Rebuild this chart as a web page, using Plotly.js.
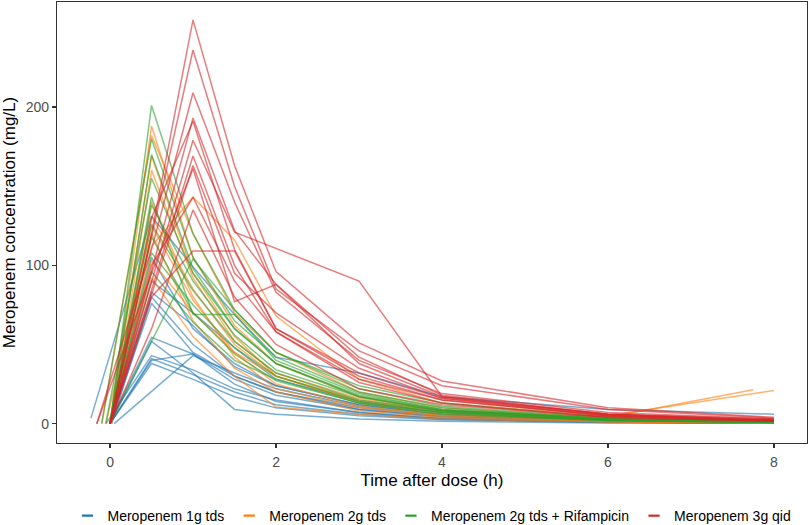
<!DOCTYPE html>
<html>
<head>
<meta charset="utf-8">
<script src="https://cdn.plot.ly/plotly-3.0.1.min.js"></script>
<style>
  html, body { margin: 0; padding: 0; background: #fff; }
  #chart { width: 809px; height: 525px; }
</style>
</head>
<body>
<div id="chart"></div>
<script>
// Individual concentration-time profiles, one inner array per patient.
// Times in hours after dose, concentrations in mg/L.

var groupNames = ['Meropenem 1g tds', 'Meropenem 2g tds', 'Meropenem 2g tds + Rifampicin', 'Meropenem 3g qid'];
var groupColors = ['#1F77B4', '#FF7F0E', '#2CA02C', '#D62728'];

var times1g = [
    [-0.23, 0.5, 1, 1.5, 2, 3, 4, 6, 8],
    [0, 0.5, 1, 1.5, 2, 3, 4, 6, 8],
    [0.02, 0.5, 1, 1.5, 2, 3, 4, 6, 8],
    [0, 0.5, 1, 1.5, 2, 3, 4, 6, 8],
    [-0.05, 0.5, 1, 1.5, 2, 3, 4, 6, 8],
    [0, 0.5, 1, 1.5, 2, 3, 4, 6, 8],
    [0, 0.5, 1, 1.5, 2, 3, 4, 6, 8],
    [0.05, 1, 1.5, 2, 3, 4, 6, 8],
    [0, 0.5, 1, 1.5, 2, 3, 4, 6, 8],
    [0, 0.5, 1, 1.5, 2, 3, 4, 6, 8],
    [0, 0.5, 1, 1.5, 2, 3, 4, 6, 8],
    [0, 0.5, 1, 1.5, 2, 3, 4, 6, 8],
    [0, 0.5, 1, 1.5, 2, 3, 4, 6, 8]
];
var conc1g = [
    [3.5, 131, 99, 69, 42, 32, 17, 9, 6],
    [0, 83, 62, 36, 24, 12, 6, 2, 1],
    [0, 80, 50, 30, 20, 10, 5, 2, 0.8],
    [1, 54.5, 44, 28, 18, 9, 4.5, 1.5, 0.5],
    [0, 43, 34, 22, 15, 7, 3.5, 1.2, 0.4],
    [0, 41, 31, 20, 12, 6, 3, 1, 0.3],
    [0, 38, 28, 17, 10, 5, 2.5, 0.8, 0.3],
    [0, 43, 32, 22, 11, 5, 2, 0.7],
    [0, 52, 32, 9, 6, 3, 1.5, 0.5, 0.2],
    [0, 76, 45, 30, 20, 9, 4, 1.5, 0.5],
    [0, 105, 60, 38, 24, 12, 6, 2.5, 1],
    [0, 90, 70, 48, 28, 14, 7, 3, 1.2],
    [0, 40, 44, 25, 14, 7, 3, 1, 0.4]
];

var times2g = [
    [0, 0.5, 1, 1.5, 2, 3, 4, 6, 8],
    [-0.1, 0.5, 1, 1.5, 2, 3, 4, 6, 8],
    [0, 0.5, 1, 1.5, 2, 3, 4, 6, 8],
    [0, 0.5, 1, 1.5, 2, 3, 4, 6, 8],
    [-0.05, 0.5, 1, 1.5, 2, 3, 4, 6, 8],
    [0, 0.5, 1, 1.5, 2, 3, 4, 6, 8],
    [0, 0.5, 1, 1.5, 2, 3, 4, 6, 7.75],
    [0, 0.5, 1, 1.5, 2, 3, 4, 6, 8],
    [0, 0.5, 1, 1.5, 2, 3, 4, 6, 8],
    [0, 0.5, 1, 1.5, 2, 3, 4, 6, 8],
    [0.02, 0.5, 1, 1.5, 2, 3, 4, 6, 8]
];
var conc2g = [
    [0, 188, 105, 62, 38, 17, 8, 3, 1],
    [0, 182, 120, 70, 45, 20, 10, 3.5, 1.2],
    [0, 169, 95, 55, 30, 14, 7, 2.5, 0.8],
    [0, 131, 85, 50, 30, 13, 6, 2, 1],
    [0, 125, 78, 45, 25, 11, 5, 1.5, 0.5],
    [0, 120, 65, 35, 20, 8, 4, 1.2, 0.4],
    [0, 103, 70, 45, 30, 15, 8, 4, 21.5],
    [0, 112, 143, 116, 68, 28, 13, 5, 2],
    [0, 92, 55, 30, 10.5, 6, 3, 1, 0.3],
    [0, 140, 80, 42, 22, 10, 5, 5, 21],
    [0, 160, 92, 52, 32, 16, 8, 3, 1]
];

var times2gRif = [
    [0, 0.5, 1, 1.5, 2, 3, 4, 6, 8],
    [-0.1, 0.5, 1, 1.5, 2, 3, 4, 6, 8],
    [0, 0.5, 1, 1.5, 2, 3, 4, 6, 8],
    [0, 0.5, 1, 1.5, 2, 3, 4, 6, 8],
    [0, 0.5, 1, 1.5, 2, 3, 4, 6, 8],
    [0, 0.5, 1, 1.5, 2, 3, 4, 6, 8],
    [0, 0.5, 1, 1.5, 2, 3, 4, 6, 8],
    [0, 1, 1.5, 2, 3, 4, 6, 8],
    [0, 0.5, 1, 1.5, 2, 3, 4, 6, 8],
    [0, 0.5, 1, 1.5, 2, 3, 4, 6, 8],
    [-0.05, 0.5, 1, 1.5, 2, 3, 4, 6, 8]
];
var conc2gRif = [
    [0, 201, 120, 72, 45, 22, 11, 3.5, 1.2],
    [0, 180, 105, 65, 42, 20, 10, 3, 1],
    [0, 170, 98, 60, 38, 18, 9, 2.5, 0.8],
    [0, 143, 69, 69, 40, 19, 9, 3, 1],
    [0, 138, 90, 56, 34, 17, 8.5, 3, 1.5],
    [0, 126, 84, 52, 32, 15, 8, 2.5, 1],
    [0, 108, 75, 48, 30, 14, 7, 2, 0.8],
    [0, 104, 72, 45, 24, 13, 4, 1.5],
    [1, 118, 70, 44, 27, 13, 6, 2, 0.6],
    [0, 96, 64, 40, 28, 13, 7, 2, 0.8],
    [0, 155, 95, 60, 38, 17, 8, 2.5, 1]
];

var times3g = [
    [0, 0.5, 1, 1.5, 2, 3, 4, 6, 8],
    [0, 1, 1.5, 2, 3, 4, 6, 8],
    [-0.16, 0.5, 1, 1.5, 2, 3, 4, 6, 8],
    [0, 1, 1.5, 2, 3, 4, 6, 8],
    [0, 0.5, 1, 1.5, 2, 3, 4, 6, 8],
    [0, 1, 1.5, 3, 4, 6, 8],
    [0, 0.5, 1, 1.5, 2, 3, 4, 6, 8],
    [0, 1, 1.5, 2, 3, 4, 6, 8],
    [-0.16, 0.5, 1, 1.5, 2, 3, 4, 6, 8],
    [0, 0.5, 1, 1.5, 2, 3, 4, 6, 8],
    [0, 0.5, 1, 1.5, 2, 3, 4, 6, 8],
    [0, 0.5, 1, 1.5, 2, 3, 4, 6, 8]
];
var conc3g = [
    [0, 120, 255, 163, 96, 51, 27, 10, 4],
    [0, 236, 150, 85, 46, 24, 9, 3.5],
    [0, 110, 209, 140, 83, 40, 19, 7, 3],
    [0, 193, 122, 88, 42, 18, 6, 2.5],
    [0, 130, 191, 110, 60, 32, 16, 5, 2],
    [0, 179, 121, 90, 17, 6, 2],
    [0, 85, 169, 100, 58, 28, 15, 5, 2],
    [0, 163, 95, 70, 35, 16, 6, 3],
    [0, 95, 161, 77, 88, 38, 17, 6, 2],
    [0, 100, 143, 90, 58, 26, 13, 4, 1.5],
    [0, 80, 109, 109, 60, 30, 15, 5, 2],
    [0, 60, 135, 80, 50, 22, 12, 4, 1.5]
];

var allTimes = [times1g, times2g, times2gRif, times3g];
var allConc = [conc1g, conc2g, conc2gRif, conc3g];

var plotlyData = [];

// one line per patient
for(var g = 0; g < allTimes.length; g++)
{
    for(var p = 0; p < allTimes[g].length; p++)
    {
        plotlyData.push({
            x: allTimes[g][p],
            y: allConc[g][p],
            type: 'scatter',
            mode: 'lines',
            line: {color: groupColors[g], width: 1.5},
            opacity: 0.6,
            showlegend: false,
            hoverinfo: 'skip'
        });
    }
}

// legend entries only (short dash like ggplot)
for(var g = 0; g < groupNames.length; g++)
{
    plotlyData.push({
        x: [null],
        y: [null],
        type: 'scatter',
        mode: 'markers',
        name: groupNames[g],
        marker: {symbol: 'line-ew', size: 8, color: groupColors[g], line: {color: groupColors[g], width: 2.2}},
        showlegend: true,
        hoverinfo: 'skip'
    });
}

var axisCommon = {
    showgrid: false,
    zeroline: false,
    showline: true,
    mirror: true,
    linecolor: '#333333',
    linewidth: 1.1,
    ticks: 'outside',
    ticklen: 4,
    tickwidth: 1.1,
    tickcolor: '#333333',
    tickfont: {size: 14, color: '#4D4D4D'},
    automargin: false
};

var plotlyLayout = {
    width: 809,
    height: 525,
    margin: {l: 57, r: 2, t: 2, b: 82},
    paper_bgcolor: '#FFFFFF',
    plot_bgcolor: '#FFFFFF',
    font: {family: 'Liberation Sans, Arial, sans-serif', color: '#000000'},
    showlegend: true,
    legend: {
        orientation: 'h',
        x: 0.5,
        xanchor: 'center',
        yref: 'container',
        y: 0.017,
        yanchor: 'middle',
        font: {size: 14, color: '#000000'},
        bgcolor: 'rgba(0,0,0,0)',
        traceorder: 'normal'
    },
    xaxis: Object.assign({}, axisCommon, {
        range: [-0.639, 8.398],
        tickvals: [0, 2, 4, 6, 8],
        ticklabelstandoff: 2,
        title: {text: 'Time after dose (h)', font: {size: 17}, standoff: 5}
    }),
    yaxis: Object.assign({}, axisCommon, {
        range: [-12.2, 266.3],
        tickvals: [0, 100, 200],
        title: {text: 'Meropenem concentration (mg/L)', font: {size: 17}, standoff: 6}
    })
};

var plotlyConfig = {
    displayModeBar: false,
    responsive: false,
    staticPlot: true
};

Plotly.newPlot('chart', plotlyData, plotlyLayout, plotlyConfig);
</script>
</body>
</html>
